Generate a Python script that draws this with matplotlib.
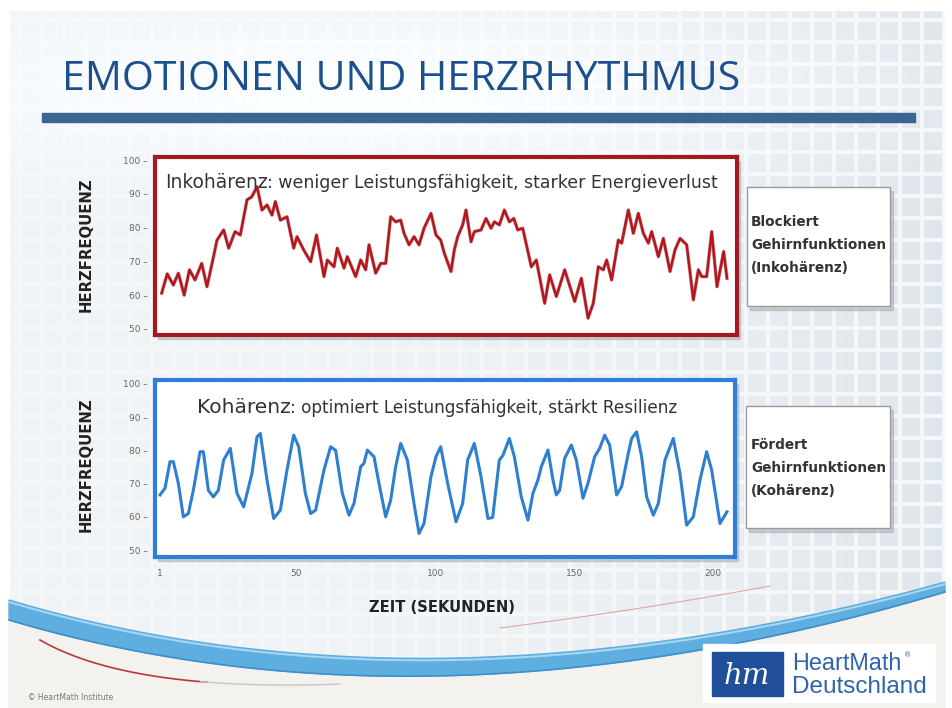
import numpy as np
import matplotlib
matplotlib.use('Agg')
import matplotlib.pyplot as plt
from matplotlib import font_manager as fm
from matplotlib.patches import Rectangle, Polygon

# ---------------- data ----------------
top_t = [1.6, 3.6, 5.8, 7.6, 9.7, 11.6, 13.6, 16.0, 17.9, 20.0, 21.5, 23.9, 25.7, 28.0, 29.9,
         32.3, 34.0, 35.9, 37.7, 39.5, 41.3, 42.5, 44.3, 46.7, 49.1, 50.3, 52.7, 55.2, 57.3,
         60.0, 61.2, 63.6, 64.8, 67.2, 68.4, 71.4, 73.2, 75.0, 76.2, 78.6, 80.4, 82.2, 84.0,
         85.8, 87.6, 88.8, 90.6, 92.4, 94.2, 96.0, 98.5, 100.3, 102.0, 103.3, 105.7, 106.9,
         108.1, 109.9, 111.1, 112.9, 114.1, 116.5, 118.3, 120.1, 121.3, 123.1, 124.9, 126.7,
         128.3, 129.7, 131.5, 134.6, 136.4, 139.4, 141.2, 143.6, 146.6, 150.2, 152.6, 155.0,
         156.9, 158.7, 160.5, 161.7, 163.5, 165.9, 167.1, 169.5, 171.3, 173.1, 174.9, 176.7,
         177.9, 180.3, 182.1, 184.5, 186.3, 188.1, 190.5, 192.9, 194.7, 195.9, 197.7, 199.5,
         201.4, 203.8, 205.0]
top_v = [60.6, 66.3, 63.0, 66.5, 60.0, 67.5, 64.5, 69.4, 62.5, 70.4, 76.3, 79.3, 73.9, 78.8, 77.8,
         88.2, 89.1, 92.1, 85.2, 86.7, 83.7, 87.7, 82.2, 83.2, 73.9, 77.3, 73.4, 69.9, 77.8,
         65.5, 70.4, 68.4, 73.9, 68.0, 71.4, 65.5, 70.4, 67.5, 74.9, 66.5, 69.4, 69.4, 83.2,
         81.7, 82.2, 78.3, 74.9, 77.3, 74.9, 79.8, 84.2, 77.8, 76.3, 72.4, 67.0, 73.4,
         77.3, 80.8, 85.2, 75.8, 78.8, 79.3, 82.7, 79.8, 81.7, 80.8, 85.2, 81.7,
         82.7, 79.3, 79.8, 68.4, 70.4, 57.6, 66.0, 59.6, 67.5, 58.1, 65.0, 53.2,
         57.6, 68.4, 67.5, 70.4, 64.5, 76.3, 75.4, 85.2, 78.3, 84.2, 78.3, 75.4,
         78.8, 71.4, 76.8, 67.0, 73.4, 76.8, 74.9, 58.6, 67.5, 65.5, 65.5, 78.8,
         62.5, 72.9, 65.0]

bot_t = [1.0, 2.8, 4.6, 5.8, 7.6, 9.4, 11.2, 13.0, 15.4, 16.6, 18.4, 20.2, 22.0, 23.9, 26.3,
         28.7, 31.1, 34.1, 35.9, 37.1, 39.5, 41.9, 44.3, 46.7, 49.1, 50.9, 53.3, 55.2, 57.0,
         60.0, 62.4, 64.2, 66.6, 69.0, 70.8, 73.2, 74.4, 75.6, 78.0, 79.8, 82.2, 84.0, 85.8,
         87.6, 90.0, 92.4, 94.2, 96.0, 98.5, 100.3, 102.0, 104.5, 107.5, 109.9, 111.7, 114.1,
         116.5, 119.0, 120.7, 123.1, 124.4, 126.7, 128.5, 131.0, 133.4, 135.2, 137.0, 138.2,
         140.6, 142.4, 143.6, 144.8, 146.6, 149.0, 150.8, 153.2, 155.0, 157.4, 159.2, 161.0,
         162.8, 165.3, 167.1, 169.5, 170.7, 172.5, 174.3, 176.1, 178.5, 180.3, 182.7, 185.7,
         188.1, 190.5, 192.9, 195.3, 197.7, 199.5, 202.5, 205.0]
bot_v = [66.6, 68.6, 76.6, 76.6, 70.1, 60.0, 61.0, 68.0, 79.6, 79.6, 68.0, 66.0, 68.0, 77.1, 80.6,
         67.1, 63.0, 73.1, 84.1, 85.1, 71.1, 59.5, 62.0, 74.1, 84.6, 81.1, 67.1, 61.0, 62.0,
         74.1, 81.1, 80.0, 67.1, 60.5, 64.0, 75.1, 76.1, 80.1, 78.1, 70.1, 60.0, 65.0, 75.1,
         82.1, 77.1, 64.0, 55.0, 58.0, 72.1, 78.1, 81.1, 70.1, 58.5, 64.0, 77.1, 82.1,
         72.1, 59.5, 59.8, 77.1, 78.5, 83.6, 78.1, 66.0, 59.0, 67.1, 71.1, 75.1,
         80.1, 71.1, 66.6, 68.0, 77.6, 81.6, 77.1, 65.6, 70.1, 78.1, 80.6, 84.6,
         81.6, 66.6, 69.1, 79.1, 83.6, 85.6, 78.1, 66.0, 60.5, 64.0, 77.1, 83.6,
         73.1, 57.5, 60.0, 71.1, 79.6, 74.1, 58.0, 61.5]

y_ticks = [50, 60, 70, 80, 90, 100]
x_ticks = [1, 50, 100, 150, 200]

title = "EMOTIONEN UND HERZRHYTHMUS"
ylabel = "HERZFREQUENZ"
xlabel = "ZEIT (SEKUNDEN)"
top_head = ("Inkohärenz", ": weniger Leistungsfähigkeit, starker Energieverlust")
bot_head = ("Kohärenz", ": optimiert Leistungsfähigkeit, stärkt Resilienz")
top_side = ["Blockiert", "Gehirnfunktionen", "(Inkohärenz)"]
bot_side = ["Fördert", "Gehirnfunktionen", "(Kohärenz)"]

# ---------------- setup ----------------
W, H = 952, 708
fig = plt.figure(figsize=(W / 100, H / 100), dpi=100)
renderer = fig.canvas.get_renderer()

names = {f.name for f in fm.fontManager.ttflist}
def pick(*cands):
    for c in cands:
        if c in names:
            return c
    return 'DejaVu Sans'
TITLE_FONT = pick('Liberation Sans Narrow', 'Open Sans', 'Liberation Sans')
BODY_FONT = pick('DejaVu Sans')

def P(x, y):
    return (x / W, 1 - y / H)

def px_axes(x0, y0, x1, y1, **kw):
    return fig.add_axes([x0 / W, 1 - y1 / H, (x1 - x0) / W, (y1 - y0) / H], **kw)

def fit(t, target, vertical=False):
    bb = t.get_window_extent(renderer)
    cur = bb.height if vertical else bb.width
    t.set_fontsize(t.get_fontsize() * target / cur)
    return t

# ---------------- background ----------------
bg = fig.add_axes([0, 0, 1, 1])
bg.set_xlim(0, W); bg.set_ylim(H, 0); bg.axis('off')
yy, xx = np.mgrid[0:H, 0:W].astype(float)
base = np.array([0.958, 0.968, 0.976])
img = np.ones((H, W, 3)) * base
tile = ((xx % 22) < 18) & ((yy % 22) < 18)
strength = 0.012 + 0.075 * (xx / W) ** 2.5
glow = np.exp(-(((xx - 380) / 420) ** 2 + ((yy - 90) / 70) ** 2))
strength = strength * (1 - 0.8 * glow)
img = img - (tile * strength)[..., None] * np.array([1.0, 0.8, 0.6])
img = img + (glow * 0.035)[..., None]
img = np.clip(img, 0, 1)
bg.imshow(img, extent=(0, W, H, 0), aspect='auto', zorder=0)

# white outer margin
for r in [(0, 0, W, 10), (0, 0, 9, H), (945, 0, 7, H)]:
    bg.add_patch(Rectangle((r[0], r[1]), r[2], r[3], color='white', zorder=1))

# swoosh (decorative)
def bez(p0, p1, p2, n=200):
    s = np.linspace(0, 1, n)[:, None]
    return (1 - s) ** 2 * np.array(p0) + 2 * (1 - s) * s * np.array(p1) + s ** 2 * np.array(p2)

bot_edge = bez((9, 620), (430, 745), (945, 592))
below = np.vstack([bot_edge, [[945, H], [9, H]]])
bg.add_patch(Polygon(below, closed=True, color='#f4f2ee', zorder=1))
top_edge = bez((9, 600), (430, 725), (945, 582))
band = np.vstack([top_edge, bot_edge[::-1]])
bg.add_patch(Polygon(band, closed=True, color='#5eaee0', zorder=2))
bg.plot(top_edge[:, 0], top_edge[:, 1] + 2, color='#a8d5f1', lw=1.5, zorder=3)
bg.plot(bot_edge[:, 0], bot_edge[:, 1], color='#3f8fca', lw=1.2, zorder=3)
red = bez((40, 640), (130, 692), (340, 684))
bg.plot(red[:130, 0], red[:130, 1], color='#b8383d', lw=1.2, zorder=3)
bg.plot(red[125:, 0], red[125:, 1], color='#c9c4c4', lw=1.0, zorder=3)
thin = bez((500, 628), (640, 610), (770, 586))
bg.plot(thin[:, 0], thin[:, 1], color='#d9a8aa', lw=0.8, zorder=3)

# title bar
bg.add_patch(Rectangle((42, 113), 873, 9, color='#3c6592', zorder=3))

# box shadows
for (x0, y0, x1, y1) in [(155, 157, 737, 335), (155, 380, 735, 557),
                         (747, 187, 890, 306), (746, 406, 890, 528)]:
    bg.add_patch(Rectangle((x0 + 3, y0 + 4), x1 - x0, y1 - y0, color='#9aa3ab',
                           alpha=0.45, zorder=3))
for (x0, y0, x1, y1) in [(747, 187, 890, 306), (746, 406, 890, 528)]:
    bg.add_patch(Rectangle((x0, y0), x1 - x0, y1 - y0, facecolor='white',
                           edgecolor='#9a9a9a', lw=1.0, zorder=4))

# logo background
bg.add_patch(Rectangle((703, 644), 232, 58, color='white', zorder=4))
bg.add_patch(Rectangle((712, 652), 71, 44, color='#1f4f9a', zorder=5))

# ---------------- charts ----------------
def style_axes(ax, color, xr, yr):
    ax.set_xlim(*xr); ax.set_ylim(*yr)
    for s in ax.spines.values():
        s.set_color(color); s.set_linewidth(3.0)
    ax.set_yticks(y_ticks)
    ax.set_yticklabels([f"{v} –" for v in y_ticks])
    ax.tick_params(axis='y', length=0, pad=5, labelsize=6.5, labelcolor='#666666')
    ax.set_facecolor('white')

ax1 = px_axes(155, 157, 737, 335)
ax1.plot(top_t, top_v, color='#5a0a0d', lw=2.6, solid_joinstyle='round', alpha=0.35)
ax1.plot(top_t, top_v, color='#b8141c', lw=1.8, solid_joinstyle='round')
style_axes(ax1, '#a3191d', (-0.8, 208.6), (48.2, 100.9))
ax1.set_xticks([])

ax2 = px_axes(155, 380, 735, 557)
ax2.plot(bot_t, bot_v, color='#2f7fd0', lw=2.2, solid_joinstyle='round')
style_axes(ax2, '#2d7fd8', (-0.8, 207.9), (47.9, 101.2))
ax2.set_xticks(x_ticks)
ax2.tick_params(axis='x', length=0, pad=9, labelsize=6.5, labelcolor='#666666')

# ---------------- texts ----------------
t = fig.text(*P(62, 80), title, fontsize=30, family=TITLE_FONT, color='#1d4f8c',
             va='center', ha='left')
fit(t, 678)

for yc in (245, 465):
    t = fig.text(*P(86, yc), ylabel, rotation=90, fontsize=11, fontweight='bold',
                 family=BODY_FONT, color='#222222', va='center', ha='center')
    fit(t, 134, vertical=True)

t = fig.text(*P(442, 607), xlabel, fontsize=11, fontweight='bold', family=BODY_FONT,
             color='#222222', va='center', ha='center')
fit(t, 145)

def headline(parts, x0, base_y, w1, wtot):
    a = fig.text(*P(x0, base_y), parts[0], fontsize=13, family=BODY_FONT,
                 color='#333333', va='baseline', ha='left')
    fit(a, w1)
    b = fig.text(*P(x0 + w1, base_y), parts[1], fontsize=10, family=BODY_FONT,
                 color='#333333', va='baseline', ha='left')
    fit(b, wtot - w1)

headline(top_head, 165, 188, 102, 550)
headline(bot_head, 197, 413, 93, 480)

def side(lines, x0, ys):
    fs = 9
    for ln, yc in zip(lines, ys):
        t = fig.text(*P(x0, yc), ln, fontsize=9, fontweight='bold', family=BODY_FONT,
                     color='#333333', va='center', ha='left', zorder=6)
        if ln == "Gehirnfunktionen":
            fit(t, 134)
            fs = t.get_fontsize()
    return fs

fs = side(top_side, 751, (222, 245, 268))
fs2 = side(bot_side, 751, (445, 468, 491))
for tx in fig.texts[-6:]:
    tx.set_fontsize(fs)

# logo texts
fig.text(*P(747, 676), "hm", fontsize=21, family='DejaVu Serif', style='italic',
         color='white', va='center', ha='center', zorder=6)
t = fig.text(*P(792, 664), "HeartMath", fontsize=15, family=pick('Liberation Sans'),
             color='#2f64ad', va='center', ha='left', zorder=6)
fit(t, 110)
fig.text(*P(904, 655), "®", fontsize=5, color='#2f64ad', va='center', ha='left', zorder=6)
t = fig.text(*P(792, 687), "Deutschland", fontsize=15, family=pick('Liberation Sans'),
             color='#2f64ad', va='center', ha='left', zorder=6)
fit(t, 136)

fig.text(*P(28, 697), "© HeartMath Institute", fontsize=5.5, family=BODY_FONT,
         color='#7a7a7a', va='center', ha='left')

fig.savefig('out.png', dpi=100)
